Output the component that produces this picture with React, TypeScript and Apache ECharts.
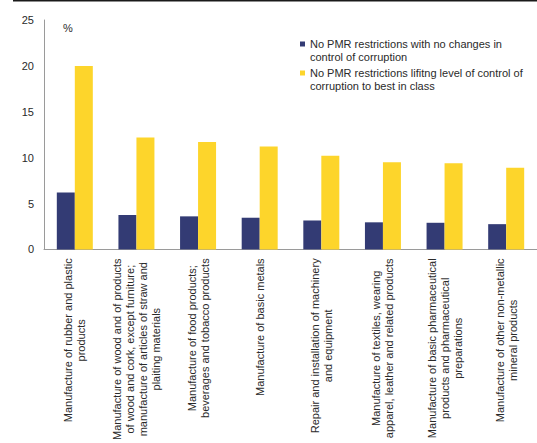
import React, { useEffect, useRef } from "react";
import * as echarts from "echarts";

const categories = [
  "Manufacture of rubber and plastic\nproducts",
  "Manufacture of wood and of products\nof wood and cork, except furniture;\nmanufacture of articles of straw and\nplaiting materials",
  "Manufacture of food products;\nbeverages and tobacco products",
  "Manufacture of basic metals",
  "Repair and installation of machinery\nand equipment",
  "Manufacture of textiles, wearing\napparel, leather and related products",
  "Manufacture of basic pharmaceutical\nproducts and pharmaceutical\npreparations",
  "Manufacture of other non-metallic\nmineral products",
];

const seriesNames = [
  "No PMR restrictions with no changes in control of corruption",
  "No PMR restrictions lifitng level of control of corruption to best in class",
];

const legendLabels = [
  "No PMR restrictions with no changes in\ncontrol of corruption",
  "No PMR restrictions lifitng level of control of\ncorruption to best in class",
];

const noChange = [6.2, 3.75, 3.6, 3.45, 3.15, 2.95, 2.9, 2.75];
const bestInClass = [20.0, 12.2, 11.7, 11.2, 10.2, 9.5, 9.4, 8.9];

const yTicks = { min: 0, max: 25, interval: 5 };

const BLUE = "#333b74";
const YELLOW = "#fdd52b";
const FONT = "'Liberation Sans', Arial, sans-serif";

export default function App() {
  const ref = useRef<HTMLDivElement>(null);

  useEffect(() => {
    if (!ref.current) return;
    const chart = echarts.init(ref.current, null, { renderer: "svg" });
    chart.setOption({
      animation: false,
      backgroundColor: "#ffffff",
      textStyle: { fontFamily: FONT },
      grid: { left: 44, top: 20, right: -9, bottom: 192, containLabel: false },
      legend: {
        orient: "vertical",
        left: 300,
        top: 24.5,
        padding: 0,
        itemWidth: 5,
        itemHeight: 5,
        itemGap: -10,
        icon: "rect",
        data: seriesNames,
        // leading empty line keeps the square level with the first text line
        formatter: (name: string) => "\n" + legendLabels[seriesNames.indexOf(name)],
        textStyle: {
          fontSize: 11,
          color: "#2a2a2a",
          lineHeight: 13,
          fontFamily: FONT,
        },
      },
      xAxis: {
        type: "category",
        data: categories,
        axisLine: { show: true, lineStyle: { color: "#9a9a9a", width: 1 } },
        axisTick: { show: false },
        axisLabel: {
          interval: 0,
          rotate: 90,
          margin: 9,
          fontSize: 11,
          color: "#2a2a2a",
          fontFamily: FONT,
          formatter: (v: string) =>
            v
              .split("\n")
              .map((l) => `{c|${l}}`)
              .join("\n"),
          rich: {
            c: {
              align: "center",
              fontSize: 11,
              lineHeight: 13,
              color: "#2a2a2a",
              fontFamily: FONT,
            },
          },
        },
      },
      yAxis: {
        type: "value",
        min: yTicks.min,
        max: yTicks.max,
        interval: yTicks.interval,
        axisLine: { show: true, lineStyle: { color: "#9a9a9a", width: 1 } },
        axisTick: { show: false },
        splitLine: { show: false },
        axisLabel: { fontSize: 11, color: "#2a2a2a", margin: 10, fontFamily: FONT },
      },
      graphic: [
        {
          type: "line",
          shape: { x1: 13, y1: 0.75, x2: 537, y2: 0.75 },
          style: { stroke: "#1a1a1a", lineWidth: 1.5 },
        },
        {
          type: "text",
          left: 63,
          top: 22,
          style: { text: "%", fontSize: 11, fill: "#2a2a2a", fontFamily: FONT },
        },
      ],
      series: [
        {
          name: seriesNames[0],
          type: "bar",
          data: noChange,
          barWidth: 18,
          barGap: "0%",
          itemStyle: { color: BLUE },
        },
        {
          name: seriesNames[1],
          type: "bar",
          data: bestInClass,
          barWidth: 18,
          barGap: "0%",
          itemStyle: { color: YELLOW },
        },
      ],
    });
    return () => chart.dispose();
  }, []);

  return (
    <div
      ref={ref}
      style={{ position: "fixed", left: 0, top: 0, width: 537, height: 443, background: "#fff" }}
    />
  );
}
